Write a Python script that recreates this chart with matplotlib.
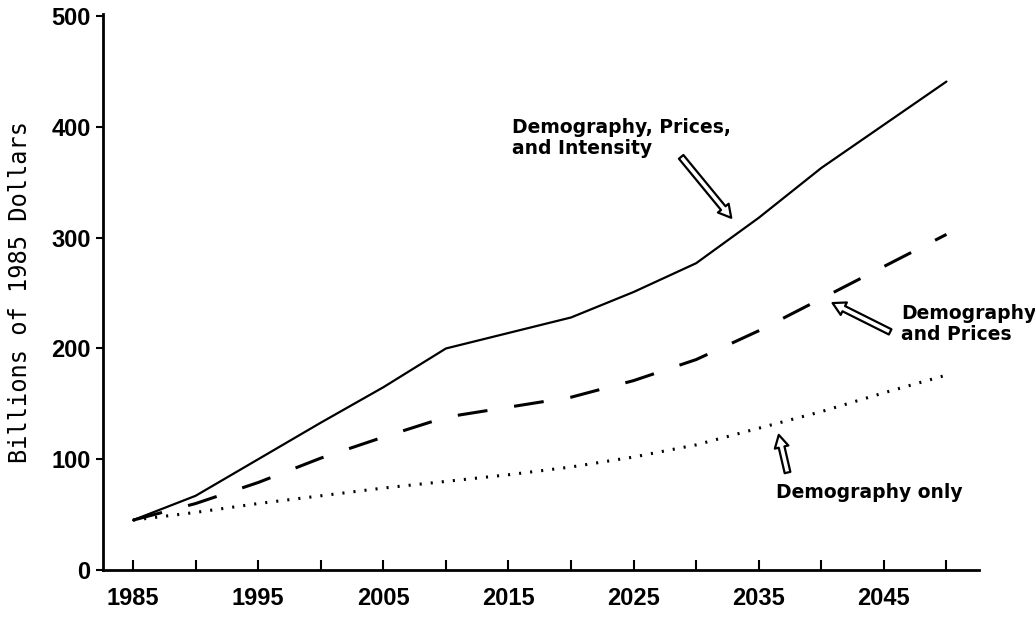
import matplotlib
matplotlib.use("Agg")
import matplotlib.pyplot as plt

years = [1985, 1990, 1995, 2000, 2005, 2010, 2015, 2020, 2025, 2030, 2035, 2040, 2045, 2050]
dem_prices_intensity = [45, 67, 100, 133, 165, 200, 214, 228, 251, 277, 318, 363, 402, 441]
dem_prices = [45, 60, 79, 101, 120, 138, 147, 156, 171, 190, 216, 245, 274, 303]
dem_only = [45, 52, 60, 67, 74, 80, 86, 93, 102, 113, 128, 143, 160, 176]

major_ticks = [1985, 1995, 2005, 2015, 2025, 2035, 2045]
minor_ticks = [1990, 2000, 2010, 2020, 2030, 2040, 2050]
y_ticks = [0, 100, 200, 300, 400, 500]

fig = plt.figure(figsize=(10.35, 6.17), dpi=100)
ax = fig.add_axes([103/1035, 1 - 570/617, 876/1035, 556/617])

ax.plot(years, dem_prices_intensity, color="black", lw=1.6, solid_capstyle="round")
lw_d = 2.2
ax.plot(years, dem_prices, color="black", lw=lw_d, linestyle=(0, (21.6/lw_d, 19.4/lw_d)))
lw_o = 2.2
ax.plot(years, dem_only, color="black", lw=lw_o, linestyle=(0, (1.5/lw_o, 6.5/lw_o)))

ax.set_xlim(1982.6, 2052.6)
ax.set_ylim(0, 502)

for s in ["top", "right"]:
    ax.spines[s].set_visible(False)
for s in ["left", "bottom"]:
    ax.spines[s].set_linewidth(2)

tick_font = dict(family="Liberation Sans", weight="bold", size=17)
ax.set_xticks(major_ticks)
ax.set_xticklabels([str(t) for t in major_ticks], fontdict=tick_font)
ax.set_xticks(minor_ticks, minor=True)
ax.tick_params(axis="x", which="both", direction="in", length=7, width=1.5, pad=12)
ax.set_yticks(y_ticks)
ax.set_yticklabels([str(t) for t in y_ticks], fontdict=tick_font)
ax.tick_params(axis="y", direction="out", length=5, width=1.5, pad=4)

ax.set_ylabel("Billions of 1985 Dollars", family="DejaVu Sans Mono", size=17, labelpad=14)

ann_font = dict(family="DejaVu Sans", weight="bold", size=13.5)
arrow = dict(arrowstyle="simple,head_width=1.0,head_length=0.9,tail_width=0.42",
             fc="white", ec="black", lw=1.6, shrinkA=0, shrinkB=0)

ax.text(2015.3, 408, "Demography, Prices,\nand Intensity", ha="left", va="top",
        linespacing=1.15, **ann_font)
ax.annotate("", xy=(2032.8, 318), xytext=(2028.8, 373), arrowprops=arrow)

ax.text(2046.4, 240, "Demography\nand Prices", ha="left", va="top",
        linespacing=1.15, **ann_font)
ax.annotate("", xy=(2040.9, 241), xytext=(2045.5, 215), arrowprops=arrow)

ax.text(2036.4, 70, "Demography only", ha="left", va="center", **ann_font)
ax.annotate("", xy=(2036.6, 122), xytext=(2037.3, 88), arrowprops=arrow)

fig.savefig("out.png", dpi=100)
